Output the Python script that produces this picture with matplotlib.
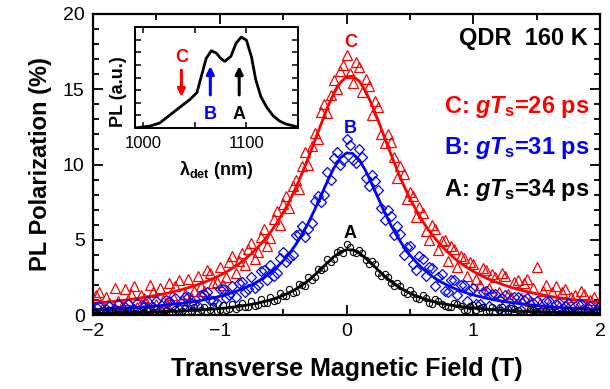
import matplotlib
matplotlib.use('Agg')
import matplotlib.pyplot as plt
from matplotlib.ticker import MultipleLocator

plt.rcParams['font.family'] = ['Liberation Sans', 'DejaVu Sans']
plt.rcParams['mathtext.fontset'] = 'custom'
plt.rcParams['mathtext.rm'] = 'Liberation Sans:bold'
plt.rcParams['mathtext.it'] = 'Liberation Sans:italic:bold'
plt.rcParams['mathtext.bf'] = 'Liberation Sans:bold'

# transverse field, up sweep and down sweep (T)
field_up = [-2.00, -1.95, -1.90, -1.85, -1.80, -1.75, -1.70, -1.65, -1.60, -1.55,
            -1.50, -1.45, -1.40, -1.35, -1.30, -1.25, -1.20, -1.15, -1.10, -1.05,
            -1.00, -0.95, -0.90, -0.85, -0.80, -0.75, -0.70, -0.65, -0.60, -0.55,
            -0.50, -0.45, -0.40, -0.35, -0.30, -0.25, -0.20, -0.15, -0.10, -0.05,
            0.00,
            0.05, 0.10, 0.15, 0.20, 0.25, 0.30, 0.35, 0.40, 0.45, 0.50,
            0.55, 0.60, 0.65, 0.70, 0.75, 0.80, 0.85, 0.90, 0.95, 1.00,
            1.05, 1.10, 1.15, 1.20, 1.25, 1.30, 1.35, 1.40, 1.45, 1.50,
            1.55, 1.60, 1.65, 1.70, 1.75, 1.80, 1.85, 1.90, 1.95, 2.00]
field_dn = [-1.975, -1.925, -1.875, -1.825, -1.775, -1.725, -1.675, -1.625, -1.575, -1.525,
            -1.475, -1.425, -1.375, -1.325, -1.275, -1.225, -1.175, -1.125, -1.075, -1.025,
            -0.975, -0.925, -0.875, -0.825, -0.775, -0.725, -0.675, -0.625, -0.575, -0.525,
            -0.475, -0.425, -0.375, -0.325, -0.275, -0.225, -0.175, -0.125, -0.075, -0.025,
            0.025,
            0.075, 0.125, 0.175, 0.225, 0.275, 0.325, 0.375, 0.425, 0.475, 0.525,
            0.575, 0.625, 0.675, 0.725, 0.775, 0.825, 0.875, 0.925, 0.975, 1.025,
            1.075, 1.125, 1.175, 1.225, 1.275, 1.325, 1.375, 1.425, 1.475, 1.525,
            1.575, 1.625, 1.675, 1.725, 1.775, 1.825, 1.875, 1.925, 1.975, 2.025]

# measured polarization (%)
pol_c_up = [0.4, 1.5, 1.2, 0.3, 0.9, 1.7, 1.4, 0.5, 1.1, 2.0,
            0.7, 1.0, 2.1, 1.9, 1.0, 2.4, 1.6, 1.9, 3.0, 2.1,
            3.2, 2.5, 3.9, 3.6, 3.3, 4.8, 4.2, 5.7, 5.1, 6.9,
            7.4, 7.1, 9.0, 9.9, 10.0, 12.1, 13.5, 13.4, 15.6, 16.2,
            17.3,
            15.4, 16.5, 15.7, 13.3, 13.8, 11.4, 11.5, 9.1, 9.4, 8.2,
            6.5, 6.8, 5.0, 5.7, 4.9, 3.6, 4.4, 3.9, 2.6, 3.4,
            2.0, 3.0, 2.7, 1.5, 2.6, 1.2, 2.3, 2.1, 0.9, 3.2,
            1.6, 0.7, 1.9, 1.5, 0.5, 1.3, 1.6, 0.4, 1.2, 0.9]
pol_c_dn = [1.3, 0.5, 0.8, 1.8, 0.6, 1.0, 1.9, 1.3, 0.6, 1.5,
            1.8, 0.8, 1.3, 2.3, 1.4, 1.2, 2.6, 1.6, 2.8, 2.2,
            2.0, 3.5, 2.8, 4.1, 4.4, 3.7, 5.2, 4.6, 6.4, 6.0,
            7.9, 8.6, 8.4, 10.8, 11.2, 11.7, 14.0, 14.6, 15.0, 16.6,
            16.1,
            16.8, 14.8, 15.2, 14.2, 12.0, 12.0, 10.5, 9.9, 7.7, 7.9,
            7.2, 5.6, 6.0, 4.3, 5.0, 4.6, 3.2, 3.8, 3.5, 2.4,
            3.1, 1.8, 2.5, 2.8, 1.4, 2.2, 1.1, 2.4, 1.8, 0.8,
            2.0, 1.5, 0.6, 1.7, 1.2, 0.5, 1.4, 1.0, 0.3, 1.1]
pol_b_up = [0.1, 0.6, 0.4, 0.2, 0.7, 0.5, 0.2, 0.8, 0.6, 0.3,
            0.9, 0.4, 0.9, 1.1, 0.5, 1.2, 0.7, 1.3, 1.5, 0.9,
            1.7, 1.1, 1.9, 2.1, 1.5, 2.5, 2.0, 3.0, 3.3, 2.8,
            4.2, 3.8, 5.3, 5.9, 5.7, 7.6, 7.5, 9.5, 10.4, 10.0,
            11.7,
            10.3, 11.0, 9.1, 9.3, 8.3, 6.3, 6.6, 5.9, 4.0, 4.6,
            3.0, 3.7, 3.2, 1.9, 2.7, 1.5, 2.3, 2.0, 0.9, 1.8,
            0.7, 1.6, 1.4, 0.4, 1.3, 0.5, 1.2, 1.0, 0.2, 0.9,
            0.3, 0.9, 0.7, 0.1, 0.8, 0.2, 0.7, 0.5, 0.1, 0.6]
pol_b_dn = [0.5, 0.2, 0.6, 0.4, 0.1, 0.7, 0.4, 0.3, 0.9, 0.5,
            0.3, 1.0, 0.6, 0.4, 1.2, 0.8, 0.6, 1.4, 1.0, 0.8,
            1.7, 1.3, 1.2, 2.2, 1.7, 1.8, 2.9, 2.3, 2.6, 3.8,
            3.5, 4.0, 5.4, 5.2, 6.1, 7.9, 8.0, 9.0, 10.8, 10.3,
            11.3,
            10.1, 10.5, 8.6, 8.9, 7.1, 7.0, 5.3, 5.4, 4.5, 3.4,
            3.9, 2.6, 3.1, 2.5, 1.6, 2.3, 1.3, 2.0, 1.6, 0.7,
            1.5, 0.6, 1.4, 1.1, 0.3, 1.2, 0.3, 1.1, 0.8, 0.2,
            0.9, 0.2, 0.8, 0.6, 0.1, 0.7, 0.2, 0.6, 0.3, 0.1]
pol_a_up = [0.0, 0.25, 0.15, 0.0, 0.3, 0.1, 0.05, 0.35, 0.2, 0.05,
            0.4, 0.15, 0.1, 0.4, 0.25, 0.1, 0.5, 0.3, 0.2, 0.6,
            0.35, 0.3, 0.7, 0.5, 0.5, 0.9, 0.65, 0.8, 1.2, 1.0,
            1.25, 1.7, 1.55, 2.0, 2.5, 2.5, 3.0, 3.7, 3.7, 4.3,
            4.7,
            4.2, 4.35, 3.65, 3.6, 2.8, 2.75, 2.1, 2.1, 1.5, 1.65,
            1.1, 1.3, 0.8, 1.05, 0.7, 0.5, 0.8, 0.6, 0.35, 0.65,
            0.45, 0.2, 0.55, 0.3, 0.1, 0.45, 0.3, 0.05, 0.4, 0.25,
            0.0, 0.35, 0.2, 0.0, 0.3, 0.15, 0.0, 0.3, 0.1, 0.0]
pol_a_dn = [0.2, 0.0, 0.3, 0.1, 0.0, 0.3, 0.15, 0.0, 0.35, 0.2,
            0.05, 0.35, 0.2, 0.1, 0.45, 0.25, 0.15, 0.55, 0.35, 0.25,
            0.65, 0.4, 0.4, 0.8, 0.55, 0.6, 1.05, 0.8, 0.95, 1.45,
            1.25, 1.45, 2.05, 1.95, 2.3, 3.05, 3.1, 3.5, 4.2, 4.1,
            4.55,
            4.1, 4.1, 3.4, 3.4, 2.6, 2.55, 1.9, 1.95, 1.4, 1.4,
            1.05, 1.15, 0.75, 0.95, 0.6, 0.55, 0.75, 0.35, 0.6, 0.3,
            0.55, 0.25, 0.2, 0.5, 0.15, 0.4, 0.1, 0.1, 0.35, 0.05,
            0.3, 0.05, 0.0, 0.3, 0.05, 0.25, 0.0, 0.0, 0.25, 0.1]

# Hanle fits (%), on the up-sweep field points
fit_c = [0.77, 0.81, 0.85, 0.89, 0.94, 0.99, 1.04, 1.10, 1.17, 1.24,
         1.31, 1.39, 1.48, 1.58, 1.69, 1.81, 1.94, 2.09, 2.25, 2.43,
         2.63, 2.85, 3.11, 3.39, 3.71, 4.08, 4.49, 4.97, 5.50, 6.11,
         6.80, 7.58, 8.45, 9.43, 10.47, 11.60, 12.70, 13.80, 14.72, 15.43,
         15.83,
         15.87, 15.54, 14.88, 13.98, 12.92, 11.80, 10.69, 9.62, 8.64, 7.75,
         6.96, 6.24, 5.62, 5.07, 4.59, 4.16, 3.78, 3.45, 3.16, 2.90,
         2.67, 2.46, 2.28, 2.12, 1.97, 1.83, 1.71, 1.60, 1.50, 1.41,
         1.33, 1.25, 1.18, 1.11, 1.05, 1.00, 0.95, 0.90, 0.86, 0.82]
fit_b = [0.35, 0.36, 0.38, 0.40, 0.42, 0.45, 0.47, 0.50, 0.53, 0.56,
         0.60, 0.64, 0.68, 0.73, 0.78, 0.84, 0.90, 0.97, 1.05, 1.14,
         1.24, 1.36, 1.49, 1.64, 1.81, 2.00, 2.23, 2.50, 2.81, 3.17,
         3.60, 4.10, 4.68, 5.36, 6.14, 7.02, 7.95, 8.90, 9.76, 10.42,
         10.77,
         10.73, 10.31, 9.60, 8.71, 7.77, 6.83, 5.97, 5.22, 4.56, 3.99,
         3.51, 3.09, 2.74, 2.44, 2.18, 1.96, 1.77, 1.60, 1.46, 1.33,
         1.22, 1.12, 1.03, 0.96, 0.89, 0.82, 0.77, 0.72, 0.67, 0.63,
         0.59, 0.55, 0.52, 0.49, 0.47, 0.44, 0.42, 0.40, 0.38, 0.36]
fit_a = [0.12, 0.13, 0.13, 0.14, 0.15, 0.15, 0.16, 0.17, 0.18, 0.19,
         0.21, 0.22, 0.24, 0.25, 0.27, 0.29, 0.31, 0.34, 0.37, 0.40,
         0.43, 0.47, 0.52, 0.57, 0.64, 0.71, 0.79, 0.89, 1.00, 1.14,
         1.30, 1.49, 1.72, 1.99, 2.30, 2.67, 3.06, 3.48, 3.87, 4.17,
         4.34,
         4.32, 4.12, 3.79, 3.39, 2.98, 2.59, 2.23, 1.93, 1.67, 1.45,
         1.26, 1.11, 0.98, 0.87, 0.77, 0.69, 0.62, 0.56, 0.51, 0.47,
         0.43, 0.39, 0.36, 0.33, 0.31, 0.29, 0.27, 0.25, 0.23, 0.22,
         0.20, 0.19, 0.18, 0.17, 0.16, 0.15, 0.14, 0.14, 0.13, 0.12]

# inset PL spectrum
wavelength = [992, 1000, 1007, 1016, 1026, 1036, 1045, 1052, 1056, 1061,
              1066, 1071, 1075, 1079, 1085, 1090, 1095, 1100, 1105, 1109,
              1114, 1120, 1126, 1132, 1138, 1150]
pl_intensity = [0.0, 0.01, 0.02, 0.05, 0.13, 0.21, 0.28, 0.35, 0.50, 0.69,
                0.765, 0.74, 0.69, 0.66, 0.71, 0.84, 0.90, 0.87, 0.70, 0.48,
                0.31, 0.20, 0.12, 0.07, 0.04, 0.01]
det_wavelength = {'C': 1037, 'B': 1065, 'A': 1093}

legend_lines = [('C', '26', 'red'), ('B', '31', 'blue'), ('A', '34', 'black')]

fig = plt.figure(figsize=(6.10, 3.89), dpi=100)
ax = fig.add_axes([93 / 610, 74 / 389, 507 / 610, 301 / 389])

ax.plot(field_up, pol_c_up, '^', ms=7, mfc='none', mec='red', mew=0.9)
ax.plot(field_dn, pol_c_dn, '^', ms=7, mfc='none', mec='red', mew=0.9)
ax.plot(field_up, fit_c, '-', color='red', lw=2)
ax.plot(field_up, pol_b_up, 'D', ms=5, mfc='none', mec='blue', mew=0.9)
ax.plot(field_dn, pol_b_dn, 'D', ms=5, mfc='none', mec='blue', mew=0.9)
ax.plot(field_up, fit_b, '-', color='blue', lw=2)
ax.plot(field_up, pol_a_up, 'o', ms=4.5, mfc='none', mec='black', mew=0.8)
ax.plot(field_dn, pol_a_dn, 'o', ms=4.5, mfc='none', mec='black', mew=0.8)
ax.plot(field_up, fit_a, '-', color='black', lw=2)

ax.set_xlim(-2, 2)
ax.set_ylim(0, 20)
ax.xaxis.set_major_locator(MultipleLocator(1))
ax.xaxis.set_minor_locator(MultipleLocator(0.5))
ax.yaxis.set_major_locator(MultipleLocator(5))
ax.yaxis.set_minor_locator(MultipleLocator(1))
ax.tick_params(which='both', direction='in', top=True, right=True, width=1.3)
ax.tick_params(which='major', length=7, labelsize=14, pad=6)
ax.tick_params(which='minor', length=4)
for sp in ax.spines.values():
    sp.set_linewidth(1.6)

ax.set_xlabel('Transverse Magnetic Field (T)', fontsize=18, fontweight='bold', labelpad=12)
ax.set_ylabel('PL Polarization (%)', fontsize=17, fontweight='bold', labelpad=8)

ax.text(0.03, 18.1, 'C', color='red', fontsize=13, fontweight='bold', ha='center', va='center')
ax.text(0.03, 12.4, 'B', color='blue', fontsize=13, fontweight='bold', ha='center', va='center')
ax.text(0.03, 5.4, 'A', color='black', fontsize=13, fontweight='bold', ha='center', va='center')

ax.text(0.976, 0.92, 'QDR  160 K', transform=ax.transAxes, fontsize=17,
        fontweight='bold', ha='right', va='center')
for (lab, tau, col), yy in zip(legend_lines, [0.69, 0.555, 0.415]):
    ax.text(0.98, yy, lab + ': $gT_{\\rm s}$=' + tau + ' ps', transform=ax.transAxes,
            fontsize=17, fontweight='bold', color=col, ha='right', va='center')

# inset
ins = fig.add_axes([135 / 610, 261 / 389, 163 / 610, 101 / 389])
ins.plot(wavelength, pl_intensity, color='black', lw=2)
ins.set_xlim(992, 1150)
ins.set_ylim(0, 1)
ins.set_xticks([1000, 1100])
ins.xaxis.set_minor_locator(MultipleLocator(50))
ins.yaxis.set_major_locator(MultipleLocator(0.125))
ins.set_yticklabels([])
ins.tick_params(which='both', direction='in', top=True, right=True, length=4, width=1.1,
                labelsize=12)
ins.tick_params(axis='x', pad=6)
for sp in ins.spines.values():
    sp.set_linewidth(1.4)
ins.text(-0.1, 0.36, 'PL (a.u.)', transform=ins.transAxes, rotation=90,
         fontsize=13, fontweight='bold', ha='center', va='center')
ins.text(0.5, -0.42, 'λ$_{\\rm det}$ (nm)', transform=ins.transAxes,
         fontsize=13, fontweight='bold', ha='center', va='center')

arrow_tops = {'C': (0.60, 0.28), 'B': (0.30, 0.64), 'A': (0.30, 0.64)}
label_y = {'C': 0.70, 'B': 0.13, 'A': 0.13}
for (lab, tau, col) in legend_lines:
    wl = det_wavelength[lab]
    y0, y1 = arrow_tops[lab]
    ins.annotate('', xy=(wl, y1), xytext=(wl, y0),
                 arrowprops=dict(arrowstyle='-|>', color=col, lw=2.2, mutation_scale=11))
    ins.text(wl, label_y[lab], lab, color=col, fontsize=13, fontweight='bold',
             ha='center', va='center')

fig.savefig('out.png', dpi=100)
